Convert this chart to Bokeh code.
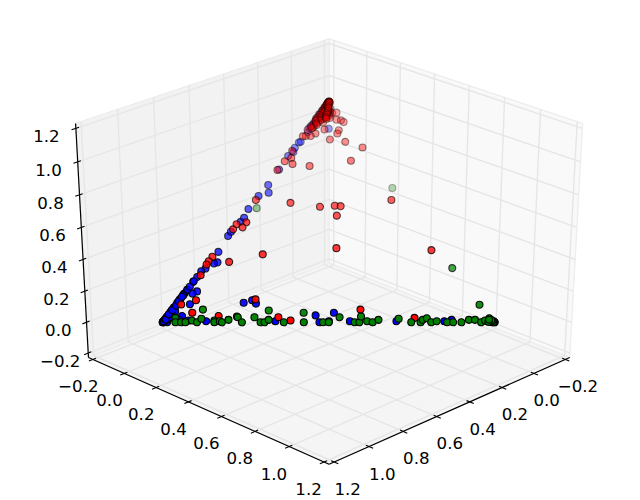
from bokeh.plotting import figure
from bokeh.models import Range1d, ColumnDataSource
from bokeh.embed import file_html
from bokeh.resources import INLINE
import numpy as np

# ---- data (each point lies on x + y + z = 1, so x is 1 - y - z) ----
ticks = [-0.2, 0.0, 0.2, 0.4, 0.6, 0.8, 1.0, 1.2]

blue_y = [0, .013, 0, .044, .041, .074, .128, .199, .219, .238, .336, .444, .471, .001, .033, 0, 0,
          .497, .493, .560, .700, .844, .863,
          0, 0, 0, 0, 0, 0, 0, .002, .001, .008,
          .001, 0, .007, .008, .001, .002, .008, .029, .021, .007, 0, .001, 0, .024, 0, 0, 0,
          .006, .025, .004, 0, .007, .002, .002, .006, .005, 0, .061, 0, 0,
          .003, 0, .002, .004, .006, .010, .020, .045, .012,
          0, 0, .002, .001, 0, .003, 0, .001, .002, 0, 0, .001]
blue_z = [0, 0, .055, .028, .081, .008, .005, .088, .099, .084, .005, .031, 0, .144, .139, .182, .129,
          .005, .043, .005, .005, .005, .011,
          .006, .026, .046, .066, .086, .106, .126, .01, .02, .012,
          .389, .408, .453, .471, .511, .570, .317, .270, .265, .242, .230, .204, .185, .129, .147, .121, .102,
          .620, .585, .690, .752, .770, .789, .813, .816, .909, .941, .876, .879, .959,
          .900, .925, .890, .930, .860, .035, .020, .010, .050,
          0, .003, 0, .004, .015, .012, .036, .055, .075, .095, .115, .160]

red_y = [.015, .050, .067, .154, .227, .336, .380, .566, .747,
         .355, .114, .212, .254, .273, .283, .646, .412,
         .147, .063, .025, .025, 0, .001, .003, .001, 0, .001, .007,
         0, 0, .021, .001, .036, .048, .023, .064, .079, .091, .011, .030, .050, .095, .098, .089, .141, .206, .201, .088,
         .032, .023, .008, 0, .001, .014, .032, .002, 0,
         0, .005, .010, 0, .015, .005, .020, 0, .010, .020, 0, .015, .005, .010, 0, .004, .012,
         0, .002, 0, .003, .001, 0, .004, .002, 0, .006, .001, .005, .008, .003, 0, .010, .007, .002, .012, .004,
         .009, .001, .014, .006, .018, .003, .011, .016, .002, .008, 0, .001, 0, .001, 0, .001, 0, .001, 0, .001,
         .012, .018, .024, .030, .006, .015, .022, .028, .034, .010, .020, .026, .040, 0, .002, .004, .006, .003, .001, .005,
         .008, .010, .012, .014, .016, .018, .020, .022, .024, .026, .028, .032]
red_z = [.080, .099, .043, .028, .103, .023, .008, .057, .020,
         .334, .539, .521, .526, .524, .481, .325, .552,
         .306, .272, .451, .428, .442, .419, .552, .295, .275, .260, .212,
         1.0, .974, .967, .959, .947, .949, .932, .917, .914, .906, .887, .904, .872, .869, .854, .827, .816, .790, .730, .706,
         .854, .843, .843, .841, .775, .743, .715, .728, .688,
         .990, .985, .975, .970, .960, .950, .945, .940, .930, .920, .920, .905, .895, .880, .870, .910, .935,
         .998, .995, .992, .990, .988, .985, .983, .980, .978, .975, .972, .970, .965, .962, .958, .955, .952, .948, .942, .938,
         .933, .928, .925, .918, .915, .912, .900, .893, .886, .878, 1.0, 1.0, .996, .996, .993, .993, .990, .990, .987, .987,
         .970, .962, .955, .945, .975, .965, .950, .940, .935, .955, .940, .928, .925, 1.0, .998, .996, .992, .994, .997, .986,
         .980, .975, .972, .968, .960, .955, .948, .942, .938, .930, .925, .920]

green_y = [.028, .038, .055, .068, .084, .103, .108, .092, .151, .155, .169, .178, .192, .210, .214, .238,
           .264, .294, .306, .313, .292, .364, .402, .424, .482, .499,
           .520, .577, .591, .583, .612, .631, .643, .701, .747, .775, .776, .785, .807, .821, .855, .873,
           .898, .915, .933, .957, .972, .973, .980, .998, .990, .913,
           .388, .749, .024, .985, .965, .995, .993, .988, .983, .978, .975]
green_z = [.020, 0, 0, 0, .008, 0, .016, .057, .008, 0, .005, 0, .011, .026, .023, 0,
           .023, 0, 0, .011, .053, 0, .043, 0, 0, 0,
           .023, 0, 0, .026, .005, 0, .011, .016, 0, 0, .011, .018, 0, .005, 0, 0,
           0, .011, .011, 0, .005, .018, .011, 0, 0, .079,
           .606, .244, .515, .005, .008, .003, 0, .006, .010, .002, .012]

# ---- view of the 3D box ----
ELEV, AZIM, DIST = np.radians(30), np.radians(45), 10.0
N = np.array([np.cos(ELEV)*np.cos(AZIM), np.cos(ELEV)*np.sin(AZIM), np.sin(ELEV)])
U = np.array([-np.sin(AZIM), np.cos(AZIM), 0.0])
V = np.array([-np.sin(ELEV)*np.cos(AZIM), -np.sin(ELEV)*np.sin(AZIM), np.cos(ELEV)])
LO, HI = ticks[0], ticks[-1]
SPAN = HI - LO
DELTA = SPAN / 12
MIN, MAX = LO - DELTA/4, HI + DELTA/4
CENTER = (LO + HI) / 2


def project(x, y, z):
    p = (np.array([x, y, z], dtype=float).T - LO) / SPAN - 0.5
    w = DIST - p @ N
    return (p @ U) / w, (p @ V) / w


def proj_list(pts):
    a = np.array(pts, dtype=float)
    tx, ty = project(a[:, 0], a[:, 1], a[:, 2])
    return list(tx), list(ty)


SX, CX, SY, CY = 3352.0, 328.6, 2593.0, 243.0
p = figure(width=640, height=500, output_backend="svg", toolbar_location=None,
           x_axis_type=None, y_axis_type=None, min_border=0,
           x_range=Range1d((0 - CX)/SX, (640 - CX)/SX),
           y_range=Range1d((CY - 500)/SY, (CY - 0)/SY))
p.grid.visible = False
p.outline_line_color = None
p.background_fill_color = "white"
p.border_fill_color = "white"

# panes
panes = [
    [(MIN, MIN, MIN), (MIN, MAX, MIN), (MIN, MAX, MAX), (MIN, MIN, MAX)],
    [(MIN, MIN, MIN), (MAX, MIN, MIN), (MAX, MIN, MAX), (MIN, MIN, MAX)],
    [(MIN, MIN, MIN), (MAX, MIN, MIN), (MAX, MAX, MIN), (MIN, MAX, MIN)],
]
pane_cols = ["#f9f9f9", "#f2f2f2", "#f5f5f5"]
for pts, col in zip(panes, pane_cols):
    xs, ys = proj_list(pts + [pts[0]])
    p.patch(xs, ys, fill_color=col, line_color="#eeeeee", line_width=1.4)

# grid lines
for idx in range(3):
    gx, gy = [], []
    for val in ticks:
        c = [MIN, MIN, MIN]
        c[idx] = val
        a = list(c); a[(idx - 2) % 3] = MAX
        b = list(c); b[(idx - 1) % 3] = MAX
        xs, ys = proj_list([a, c, b])
        gx.append(xs); gy.append(ys)
    p.multi_line(gx, gy, line_color="#e6e6e6", line_width=1.4)

# axis lines, ticks, labels
axes_def = [
    (0, 1, (MIN, MAX, MIN), (MAX, MAX, MIN)),
    (1, 0, (MAX, MIN, MIN), (MAX, MAX, MIN)),
    (2, 0, (MAX, MIN, MIN), (MAX, MIN, MAX)),
]
LABEL_SHIFT = (4 + 8) * 48 / (72 * (6.4 + 5.0)) * DELTA
OUT, IN = 0.15, 0.2
lab_x, lab_y, lab_t = [], [], []
for idx, tdir, e1, e2 in axes_def:
    xs, ys = proj_list([e1, e2])
    p.line(xs, ys, line_color="black", line_width=1.2)
    tx_, ty_ = [], []
    for val in ticks:
        pos = list(e1); pos[idx] = val
        a = list(pos); a[tdir] = e1[tdir] - OUT * DELTA
        b = list(pos); b[tdir] = e1[tdir] + IN * DELTA
        xs, ys = proj_list([a, b])
        tx_.append(xs); ty_.append(ys)
        q = list(pos)
        for i in range(3):
            if i == idx:
                continue
            q[i] += LABEL_SHIFT if q[i] > CENTER else -LABEL_SHIFT
        lx, ly = project(*q)
        lab_x.append(float(lx)); lab_y.append(float(ly))
        lab_t.append(f"{val:.1f}".replace("-", "\u2212"))
    p.multi_line(tx_, ty_, line_color="black", line_width=1.1)

p.text(lab_x, lab_y, text=lab_t, text_align="center", text_baseline="middle",
       text_font_size="16.67px", text_color="black",
       text_font={"value": "DejaVu Sans"}, x_offset=-1, y_offset=8)


def series(ys, zs, colour):
    ys, zs = np.array(ys, float), np.array(zs, float)
    xs = 1 - ys - zs
    tx, ty = project(xs, ys, zs)
    depth = np.array([xs, ys, zs]).T @ N
    alpha = 1 - 0.7 * (depth.max() - depth) / (depth.max() - depth.min())
    src = ColumnDataSource(dict(x=tx, y=ty, a=alpha))
    p.scatter("x", "y", source=src, size=7, marker="circle", fill_color=colour, fill_alpha="a",
              line_color="black", line_alpha="a", line_width=1.1)


series(blue_y, blue_z, "#0000ff")
series(red_y, red_z, "#ff0000")
series(green_y, green_z, "#008000")

open("out.html", "w").write(file_html(p, INLINE))
